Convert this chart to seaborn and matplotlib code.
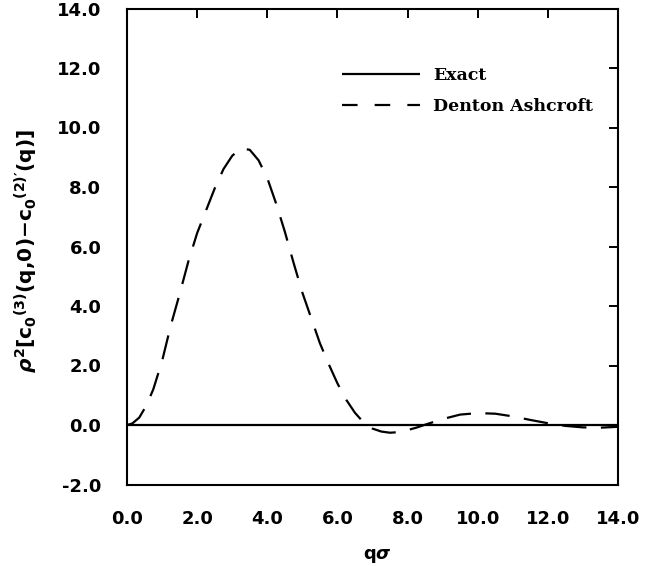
import matplotlib
matplotlib.use("Agg")
import matplotlib.pyplot as plt
from matplotlib.lines import Line2D
from matplotlib.ticker import FormatStrFormatter
import pandas as pd
import seaborn as sns

# --- data -------------------------------------------------------------
exact_q = [0.0, 2.0, 4.0, 6.0, 8.0, 10.0, 12.0, 14.0]
exact_v = [0.0, 0.0, 0.0, 0.0, 0.0, 0.0, 0.0, 0.0]

da_q = [0.0, 0.15, 0.35, 0.55, 0.75, 1.0, 1.25, 1.5, 1.75, 2.0, 2.25, 2.5,
        2.75, 3.0, 3.25, 3.5, 3.75, 4.0, 4.25, 4.5, 4.75, 5.0, 5.25, 5.5,
        5.75, 6.0, 6.25, 6.5, 6.75, 7.0, 7.25, 7.5, 7.75, 8.0, 8.25, 8.5,
        9.0, 9.5, 10.0, 10.5, 11.0, 11.5, 12.0, 12.5, 13.0, 13.5, 14.0]
da_v = [0.0, 0.05, 0.25, 0.65, 1.2, 2.15, 3.35, 4.4, 5.5, 6.45, 7.2, 7.95,
        8.6, 9.05, 9.3, 9.25, 8.9, 8.3, 7.45, 6.5, 5.45, 4.45, 3.6, 2.75,
        2.05, 1.4, 0.85, 0.41, 0.08, -0.12, -0.22, -0.26, -0.24, -0.17,
        -0.09, 0.01, 0.20, 0.35, 0.40, 0.38, 0.29, 0.17, 0.06, -0.03,
        -0.08, -0.09, -0.06]

series_names = ["Exact", "Denton Ashcroft"]
x_ticks = [0.0, 2.0, 4.0, 6.0, 8.0, 10.0, 12.0, 14.0]
y_ticks = [-2.0, 0.0, 2.0, 4.0, 6.0, 8.0, 10.0, 12.0, 14.0]

df = pd.concat([
    pd.DataFrame({"q": exact_q, "v": exact_v, "model": series_names[0]}),
    pd.DataFrame({"q": da_q, "v": da_v, "model": series_names[1]}),
], ignore_index=True)

# --- style ------------------------------------------------------------
sns.set_theme(style="white")
plt.rcParams["font.family"] = ["DejaVu Sans"]
for key in ("text.color", "axes.labelcolor", "xtick.color", "ytick.color",
            "axes.edgecolor"):
    plt.rcParams[key] = "black"
plt.rcParams["mathtext.fontset"] = "custom"
plt.rcParams["mathtext.rm"] = "DejaVu Sans:bold"
plt.rcParams["mathtext.bf"] = "DejaVu Sans:bold"
plt.rcParams["mathtext.it"] = "DejaVu Sans:bold:italic"
plt.rcParams["mathtext.sf"] = "DejaVu Sans:bold"

fig = plt.figure(figsize=(6.65, 5.66), dpi=100)
ax = fig.add_axes([127 / 665, (566 - 484.5) / 566, 491 / 665, 476 / 566])

lw = 1.6
sns.lineplot(data=df, x="q", y="v", style="model", color="black",
             dashes={series_names[0]: "", series_names[1]: (11, 6.5)},
             linewidth=lw, legend=False, sort=False, ax=ax)
ax.lines[0].set_solid_capstyle("butt")
ax.lines[1].set_dashes([11, 6.5])
ax.lines[1].set_dash_capstyle("butt")

ax.set_xlim(0, 14)
ax.set_ylim(-2, 14)
ax.set_xticks(x_ticks)
ax.set_yticks(y_ticks)
ax.xaxis.set_major_formatter(FormatStrFormatter("%.1f"))
ax.yaxis.set_major_formatter(FormatStrFormatter("%.1f"))

for s in ax.spines.values():
    s.set_visible(True)
    s.set_color("black")
    s.set_linewidth(1.5)

ax.tick_params(axis="both", which="major", direction="in", length=6.5,
               width=1.4, color="black", labelcolor="black", top=True,
               right=True, labelsize=13, pad=18.5)
for lab in ax.get_xticklabels() + ax.get_yticklabels():
    lab.set_fontweight("bold")

ax.set_xlabel(r"$\mathrm{q}\sigma$", fontsize=13)
ax.set_ylabel(r"$\rho^{2}[\mathrm{c}_{0}{}^{(3)}(\mathrm{q}{,}0){-}"
              r"\mathrm{c}_{0}{}^{(2)\prime}(\mathrm{q})]$", fontsize=14.5)
ax.xaxis.set_label_coords(0.511, -0.131)
ax.yaxis.set_label_coords(-0.177, 0.49)

handles = [
    Line2D([], [], color="black", lw=lw, solid_capstyle="butt"),
    Line2D([], [], color="black", lw=lw, dashes=(7, 7.7), dash_capstyle="butt"),
]
ax.legend(handles, series_names, loc="upper left",
          bbox_to_anchor=(0.438, 0.877), frameon=False, borderaxespad=0,
          borderpad=0, handlelength=4.5, handletextpad=0.75,
          labelspacing=0.79,
          prop={"family": "DejaVu Serif", "weight": "bold", "size": 12.5})

fig.savefig("out.png", dpi=100)
